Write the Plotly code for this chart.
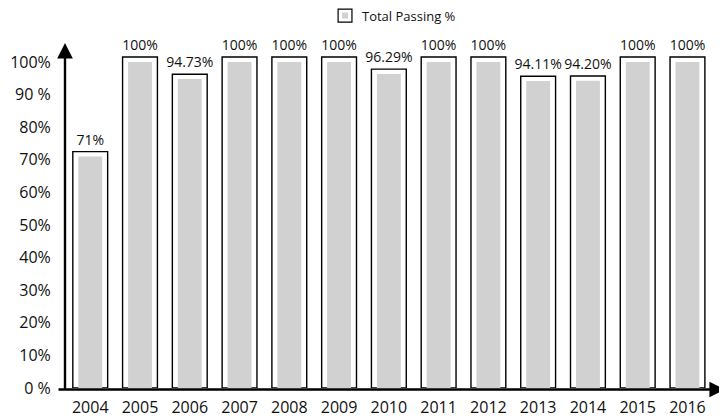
import plotly.graph_objects as go

years = ["2004", "2005", "2006", "2007", "2008", "2009", "2010",
         "2011", "2012", "2013", "2014", "2015", "2016"]
passing = [71, 100, 94.73, 100, 100, 100, 96.29, 100, 100, 94.11, 94.20, 100, 100]
labels = ["71%", "100%", "94.73%", "100%", "100%", "100%", "96.29%",
          "100%", "100%", "94.11%", "94.20%", "100%", "100%"]
y_ticks = [0, 10, 20, 30, 40, 50, 60, 70, 80, 90, 100]
y_ticktext = ["0 %", "10%", "20%", "30%", "40%", "50%", "60%", "70%", "80%", "90 %", "100%"]

FONT = "Open Sans"
pad = 1.5
xs = list(range(len(years)))

# window-pixel helpers (page body has an 8px margin)
PL, PR, PT, PB = 58, 725, 43, 389
def px(X):
    return (X - PL) / (PR - PL)
def py(Y):
    return (PB - Y) / (PB - PT)

fig = go.Figure()
fig.add_trace(go.Bar(
    x=xs, y=[v + pad for v in passing], width=0.70,
    marker=dict(color="white", line=dict(color="black", width=1.4)),
    text=labels, textposition="outside", cliponaxis=False, constraintext="none",
    textfont=dict(family=FONT, size=14, color="#111"),
    showlegend=False, hoverinfo="skip"))
fig.add_trace(go.Bar(
    x=xs, y=passing, width=0.48, name="Total Passing %",
    marker=dict(color="#d1d1d1", line=dict(width=0)),
    showlegend=False))

fig.update_layout(
    width=719, height=412,
    margin=dict(l=PL - 8, r=727 - PR, t=PT - 8, b=420 - PB),
    barmode="overlay",
    plot_bgcolor="white", paper_bgcolor="white",
    font=dict(family=FONT, size=16, color="#111"),
    xaxis=dict(tickmode="array", tickvals=xs, ticktext=years,
               range=[-0.507, 12.754], showgrid=False, zeroline=False,
               showline=False, ticks="outside", ticklen=5, tickcolor="rgba(0,0,0,0)",
               tickfont=dict(family=FONT, size=16)),
    yaxis=dict(tickmode="array", tickvals=y_ticks, ticktext=y_ticktext,
               range=[0, 105.8], showgrid=False, zeroline=False,
               showline=False, ticks="outside", ticklen=10, tickcolor="rgba(0,0,0,0)",
               tickfont=dict(family=FONT, size=16)),
    annotations=[
        dict(xref="paper", yref="paper", x=0, y=1, ax=0, ay=PB - PT + 2, text="",
             showarrow=True, arrowhead=2, arrowsize=1.3, arrowwidth=2.4, arrowcolor="black"),
        dict(xref="paper", yref="paper", x=1, y=py(390.5), ax=-(PR - PL) - 1, ay=0, text="",
             showarrow=True, arrowhead=2, arrowsize=1.3, arrowwidth=2.4, arrowcolor="black"),
        dict(xref="paper", yref="paper", x=px(356), y=py(16), xanchor="left",
             yanchor="middle", text="Total Passing %", showarrow=False,
             font=dict(family=FONT, size=13, color="#111")),
    ],
    shapes=[
        dict(type="rect", xref="paper", yref="paper",
             x0=px(334), x1=px(348), y0=py(22), y1=py(9),
             line=dict(color="black", width=1.2), fillcolor="white"),
        dict(type="rect", xref="paper", yref="paper",
             x0=px(338), x1=px(344), y0=py(18.5), y1=py(12.5),
             line=dict(width=0), fillcolor="#d1d1d1"),
    ],
)

fig.write_html("out.html")
